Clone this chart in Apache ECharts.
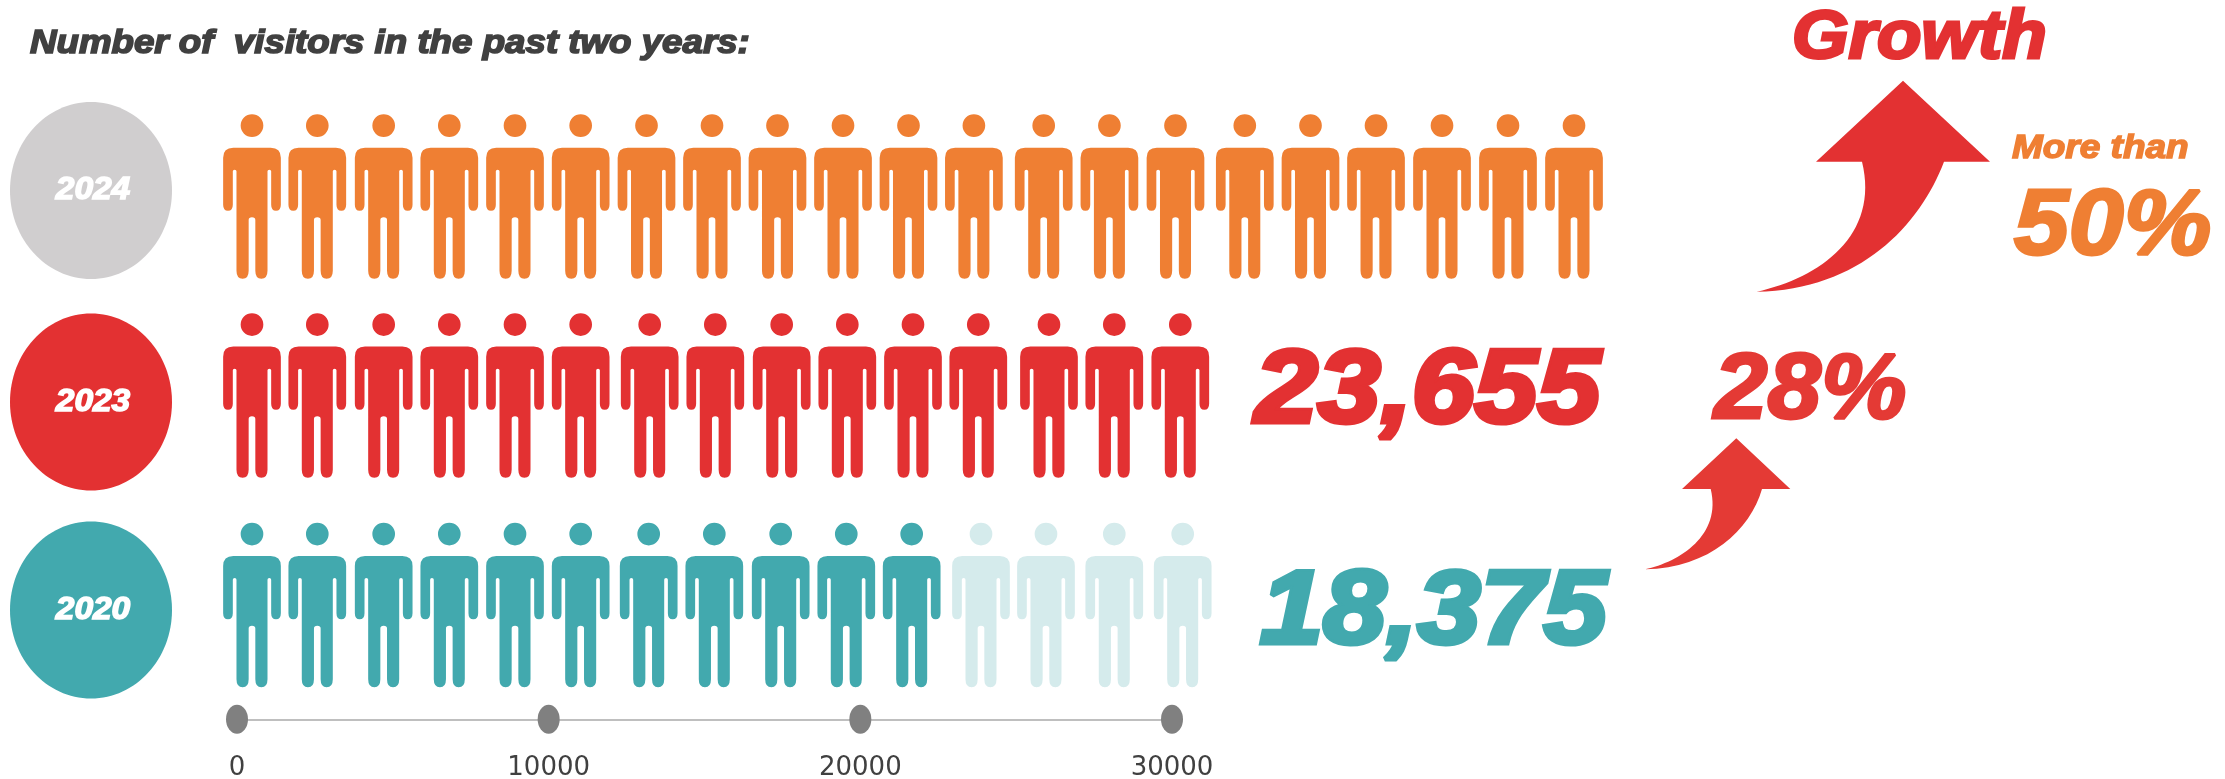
<!DOCTYPE html>
<html>
<head>
<meta charset="utf-8">
<style>html,body{margin:0;padding:0;background:#fff}#chart{width:2225px;height:779px}</style>
<script src="https://cdn.jsdelivr.net/npm/echarts@6/dist/echarts.min.js"></script>
</head>
<body>
<div id="chart"></div>
<script>
// Data (visitor-axis units)
const titleText = 'Number of  visitors in the past two years:';
const years = ['2020', '2023', '2024'];
const axisTicks = [0, 10000, 20000, 30000];
const total2023 = 23655;
const total2020 = 18375;
const growth2023 = '28%';
const growth2024 = '50%';
const figures2024 = [481,2576,4706,6811,8919,11026,13138,15239,17340,19442,21543,23641,25881,27989,30109,32332,34440,36542,38659,40776,42894];
const figures2023 = [481,2576,4706,6811,8919,11026,13240,15345,17475,19580,21687,23782,26050,28145,30263];
const figures2020 = [481,2576,4706,6811,8919,11026,13208,15313,17443,19547,21645];
const figures2020Rest = [23869,25954,28145,30340];

const PERSON = 'path://M0 1A34 34 0 1 1 0 69A34 34 0 1 1 0 1Z' +
  'M-56 101L56 101Q86.5 101 86.5 131L86.5 272Q86.5 290 72 290Q57.5 290 57.5 272L57.5 172Q57.5 167 52 167Q46.5 167 46.5 172' +
  'L46.5 470Q46.5 494 28 494Q10 494 10 470L10 318Q10 310 0 310Q-10 310 -10 318L-10 470Q-10 494 -28 494Q-46.5 494 -46.5 470' +
  'L-46.5 172Q-46.5 167 -52 167Q-57.5 167 -57.5 172L-57.5 272Q-57.5 290 -72 290Q-86.5 290 -86.5 272L-86.5 131Q-86.5 101 -56 101Z';

const ARROWS = [
  { d: 'M1903 80.7L1990 161.7L1944 161.7C1920 225 1860 290 1756.7 291.7C1820 278 1880 235 1862 161.7L1816 161.7Z', color: '#E33132' },
  { d: 'M1736.3 438.3L1790.3 489L1762 489C1750 530 1710 568 1645 569.3C1680 562 1722 535 1710.7 489L1682 489Z', color: '#E43A35' }
];

const FONT = '"Liberation Sans"';
function heavy(text, x, y, size, fill, sx, sw) {
  return {
    type: 'text', x: x, y: y, scaleX: sx, silent: true,
    style: {
      text: text, fill: fill, stroke: fill, lineWidth: sw,
      font: 'italic bold ' + size + 'px ' + FONT,
      textAlign: 'left', textVerticalAlign: 'middle', lineJoin: 'round'
    }
  };
}
function badge(cy, fill, label) {
  return [
    { type: 'ellipse', silent: true, shape: { cx: 91, cy: cy, rx: 81, ry: 88.5 }, style: { fill: fill } },
    {
      type: 'text', x: 93, y: cy, scaleX: 1.08, silent: true,
      style: { text: label, fill: '#fff', stroke: '#fff', lineWidth: 1.5, font: 'italic bold 31px ' + FONT, textAlign: 'center', textVerticalAlign: 'middle' }
    }
  ];
}
function row(name, xs, year, color, dy) {
  return {
    type: 'scatter', name: name, xAxisIndex: 0, yAxisIndex: 0,
    data: xs.map(function (v) { return [v, year]; }),
    symbol: PERSON, symbolSize: [57.7, 164.5], symbolOffset: [0, dy],
    itemStyle: { color: color, opacity: 1 }, silent: true, clip: false
  };
}

const chart = echarts.init(document.getElementById('chart'), null, { renderer: 'canvas' });
chart.setOption({
  animation: false,
  backgroundColor: '#fff',
  grid: [
    { left: 237, top: 94.4, width: 1558.5, height: 612.7 },
    { left: 237, top: 719, width: 935, height: 1 }
  ],
  xAxis: [
    { type: 'value', gridIndex: 0, min: 0, max: 50000, show: false },
    {
      type: 'value', gridIndex: 1, min: 0, max: 30000, interval: 10000,
      splitLine: { show: false }, axisTick: { show: false },
      axisLine: { show: true, lineStyle: { color: '#BFBFBF', width: 2 } },
      axisLabel: {
        margin: 36, color: '#404040', fontFamily: '"DejaVu Sans"', fontSize: 26,
        showMinLabel: true, showMaxLabel: true, hideOverlap: false,
        formatter: function (v) { return String(v); }
      }
    }
  ],
  yAxis: [
    { type: 'category', gridIndex: 0, data: years, show: false },
    { type: 'value', gridIndex: 1, min: 0, max: 1, show: false }
  ],
  series: [
    row('2024', figures2024, '2024', '#EF7F33', 0),
    row('2023', figures2023, '2023', '#E33132', -5.25),
    row('2020', figures2020, '2020', '#42A9AE', 0),
    row('2020 rest', figures2020Rest, '2020', '#D5EBEC', 0),
    {
      type: 'scatter', xAxisIndex: 1, yAxisIndex: 1, silent: true, clip: false,
      data: axisTicks.map(function (v) { return [v, 0]; }),
      symbol: 'circle', symbolSize: [22, 29], itemStyle: { color: '#808080', opacity: 1 }
    },
    {
      type: 'custom', coordinateSystem: 'none', silent: true,
      data: ARROWS.map(function (a, i) { return [i]; }),
      renderItem: function (params) {
        const a = ARROWS[params.dataIndex];
        return { type: 'path', shape: { pathData: a.d }, style: { fill: a.color } };
      }
    }
  ],
  graphic: { elements: [].concat(
    badge(190.5, '#D0CECF', years[2]),
    badge(402, '#E33132', years[1]),
    badge(610, '#42A9AE', years[0]),
    [
      heavy(titleText, 30, 44, 33, '#404040', 1.112, 1.6),
      heavy('Growth', 1792, 39, 68, '#E33132', 1.07, 3),
      heavy('More than', 2012, 149, 33, '#EF7F33', 1.12, 1.5),
      heavy(growth2024, 2014, 228, 93, '#EF7F33', 1.06, 3),
      heavy(growth2023, 1714, 393, 92, '#E43A35', 1.045, 3),
      heavy(total2023.toLocaleString('en-US'), 1255, 393, 104, '#E33132', 1.085, 5),
      heavy(total2020.toLocaleString('en-US'), 1260, 614, 104, '#42A9AE', 1.09, 5)
    ]
  ) }
});
</script>
</body>
</html>
